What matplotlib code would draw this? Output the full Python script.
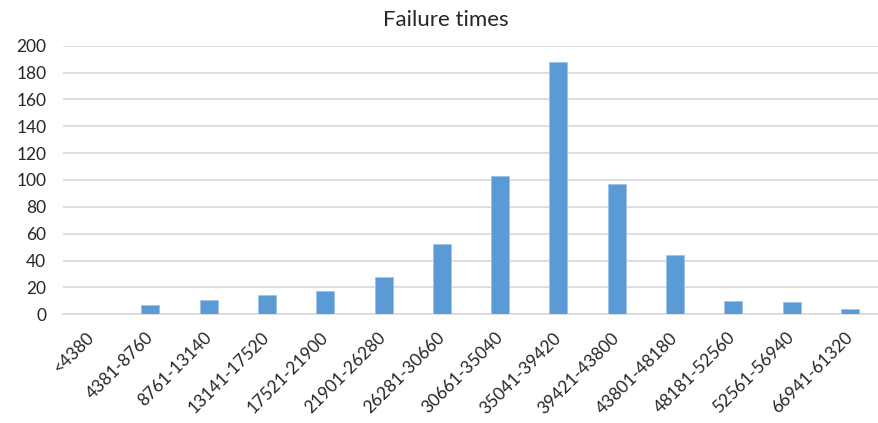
import numpy as np
import matplotlib.pyplot as plt

# failure time bins (hours) and counts
bins = ['<4380', '4381-8760', '8761-13140', '13141-17520', '17521-21900',
        '21901-26280', '26281-30660', '30661-35040', '35041-39420',
        '39421-43800', '43801-48180', '48181-52560', '52561-56940',
        '66941-61320']
counts = [0, 7, 11, 14, 17, 28, 52, 103, 188, 97, 44, 10, 9, 4]

plt.rcParams['font.family'] = ['Lato', 'DejaVu Sans']

fig = plt.figure(figsize=(8.79, 4.23), dpi=100)
ax = fig.add_axes([63/879, 1 - 314.3/423, 816/879, 268.6/423])

x = np.arange(len(bins))
ax.bar(x, counts, width=0.31, color='#5b9bd5', edgecolor='#9dc3e6', linewidth=0.6, zorder=3)

ax.set_xlim(-0.5, len(bins) - 0.5)
ax.set_ylim(0, 200)
ax.set_yticks(range(0, 201, 20))
ax.grid(axis='y', color='#d9d9d9', linewidth=1.2, zorder=0)
for s in ['top', 'right', 'left']:
    ax.spines[s].set_visible(False)
ax.spines['bottom'].set_color('#d9d9d9')
ax.spines['bottom'].set_linewidth(1.2)
ax.tick_params(length=0, labelsize=12.5, colors='#262626')
ax.tick_params(axis='y', pad=12)

ax.set_xticks(x)
ax.set_xticklabels(bins, rotation=45, ha='right', va='center',
                   rotation_mode='anchor', fontsize=12.5)
ax.tick_params(axis='x', pad=15)

fig.text(446/879, 1 - 20/423, 'Failure times', fontsize=16, color='#262626',
         ha='center', va='center')

plt.savefig('out.png', dpi=100)
